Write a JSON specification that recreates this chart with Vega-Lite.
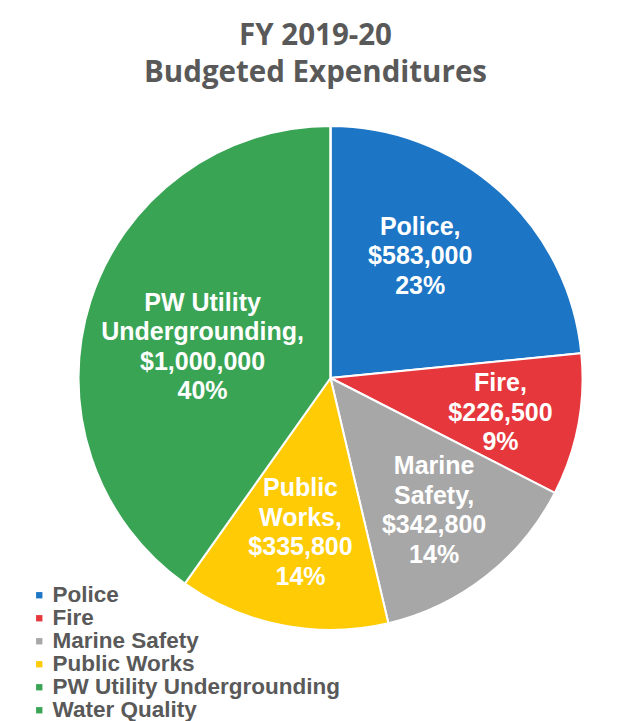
{
  "$schema": "https://vega.github.io/schema/vega-lite/v6.json",
  "width": 623,
  "height": 504,
  "autosize": {"type": "none"},
  "padding": {"top": 126, "left": 19, "right": 0, "bottom": 91},
  "background": "white",
  "config": {
    "view": {"stroke": null},
    "text": {"font": "Liberation Sans", "fontWeight": "bold", "fontSize": 25, "lineHeight": 29.5, "lineBreak": "\n", "align": "center", "baseline": "middle", "color": "white"}
  },
  "title": {
    "text": ["FY 2019-20", "Budgeted Expenditures"],
    "font": "Open Sans",
    "fontWeight": "bold",
    "fontSize": 29.5,
    "lineHeight": 37,
    "color": "#595959",
    "anchor": "middle",
    "dx": -15,
    "offset": 34
  },
  "data": {
    "values": [
      {"category": "Police", "value": 583000, "order": 1, "label": "Police,\n$583,000\n23%"},
      {"category": "Fire", "value": 226500, "order": 2, "label": "Fire,\n$226,500\n9%"},
      {"category": "Marine Safety", "value": 342800, "order": 3, "label": "Marine\nSafety,\n$342,800\n14%"},
      {"category": "Public Works", "value": 335800, "order": 4, "label": "Public\nWorks,\n$335,800\n14%"},
      {"category": "PW Utility Undergrounding", "value": 1000000, "order": 5, "label": "PW Utility\nUndergrounding,\n$1,000,000\n40%"},
      {"category": "Water Quality", "value": 0, "order": 6, "label": ""}
    ]
  },
  "encoding": {
    "theta": {"field": "value", "type": "quantitative", "stack": true},
    "order": {"field": "order", "type": "quantitative"},
    "color": {
      "field": "category",
      "type": "nominal",
      "scale": {
        "domain": ["Police", "Fire", "Marine Safety", "Public Works", "PW Utility Undergrounding", "Water Quality"],
        "range": ["#1C75C5", "#E6373D", "#A7A7A7", "#FECB05", "#3AA455", "#3AA455"]
      },
      "legend": {
        "orient": "none",
        "legendX": 9,
        "legendY": 458,
        "title": null,
        "symbolType": "square",
        "symbolSize": 40,
        "symbolStrokeWidth": 0,
        "labelFont": "Liberation Sans",
        "labelFontWeight": "bold",
        "labelFontSize": 22.5,
        "labelColor": "#595959",
        "labelLimit": 400,
        "labelOffset": 2,
        "rowPadding": 0
      }
    }
  },
  "layer": [
    {"mark": {"type": "arc", "stroke": "white", "strokeWidth": 2}},
    {
      "mark": {"type": "text", "radius": 150, "dy": -40, "dx": -11},
      "encoding": {
        "text": {"condition": {"test": "datum.category === 'Police'", "field": "label"}, "value": ""},
        "color": {"value": "white"}
      }
    },
    {
      "mark": {"type": "text", "radius": 173, "dy": -27},
      "encoding": {
        "text": {"condition": {"test": "datum.category === 'Fire'", "field": "label"}, "value": ""},
        "color": {"value": "white"}
      }
    },
    {
      "mark": {"type": "text", "radius": 168, "dy": -44},
      "encoding": {
        "text": {"condition": {"test": "datum.category === 'Marine Safety'", "field": "label"}, "value": ""},
        "color": {"value": "white"}
      }
    },
    {
      "mark": {"type": "text", "radius": 157, "dy": -44},
      "encoding": {
        "text": {"condition": {"test": "datum.category === 'Public Works'", "field": "label"}, "value": ""},
        "color": {"value": "white"}
      }
    },
    {
      "mark": {"type": "text", "radius": 150, "dy": -30, "dx": 15},
      "encoding": {
        "text": {"condition": {"test": "datum.category === 'PW Utility Undergrounding'", "field": "label"}, "value": ""},
        "color": {"value": "white"}
      }
    }
  ]
}
